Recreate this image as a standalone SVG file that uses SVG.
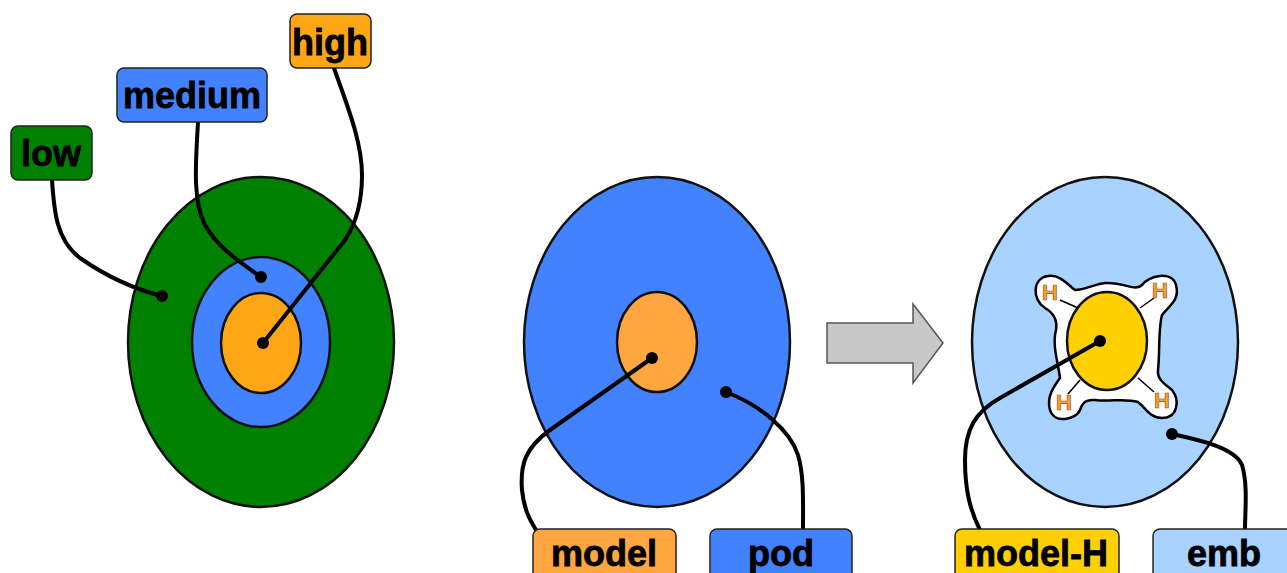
<svg xmlns="http://www.w3.org/2000/svg" width="1287" height="573" viewBox="0 0 1287 573">
<style>
.lbl{font-family:"Liberation Sans",Arial,sans-serif;font-weight:bold;font-size:36px;fill:#000;stroke:#000;stroke-width:0.8;text-anchor:middle}
.box{stroke:#222;stroke-width:1.5}
.ell{stroke:#111;stroke-width:2.5}
.con{fill:none;stroke:#000;stroke-width:4;stroke-linecap:round}
.h{font-family:"Liberation Sans",Arial,sans-serif;font-weight:bold;font-size:22px;fill:#f5a040;stroke:#a05010;stroke-width:0.7;text-anchor:middle}
.thin{stroke:#000;stroke-width:1.5}
</style>
<rect width="1287" height="573" fill="#fff"/>
<g id="target">
<ellipse class="ell" cx="261" cy="342" rx="133" ry="165" fill="#008000"/>
<ellipse class="ell" cx="261" cy="342" rx="69" ry="85" fill="#4282ff"/>
<ellipse class="ell" cx="261" cy="343" rx="40" ry="50" fill="#ffa616"/>
</g>
<g id="cell">
<ellipse class="ell" cx="657" cy="342" rx="133" ry="165" fill="#4282ff"/>
<ellipse class="ell" cx="657" cy="342" rx="40" ry="50" fill="#ffa640"/>
</g>
<g id="arrow">
<path d="M827,323 H913 V304 L943,343 L913,383 V363 H827 Z" fill="#c8c8c8" stroke="#555" stroke-width="1.5"/>
</g>
<g id="cell-h">
<ellipse class="ell" cx="1105" cy="342" rx="133" ry="165" fill="#a8d2ff"/>
<path d="M1105,283 C1125,282 1135,292 1142,285 C1148,276 1172,270 1176,285 C1180,300 1170,305 1162,315 C1158,330 1160,355 1158,370 C1157,380 1165,384 1172,390 C1180,400 1178,418 1162,418 C1150,418 1146,408 1138,402 C1125,398 1110,402 1095,400 C1085,399 1082,404 1080,410 C1076,420 1054,424 1050,410 C1046,396 1055,385 1060,378 C1058,362 1052,345 1056,330 C1058,318 1052,312 1045,308 C1032,300 1032,278 1048,276 C1060,274 1068,285 1075,290 C1085,290 1095,284 1105,283 Z" fill="#fff" stroke="#000" stroke-width="2.5"/>
<line class="thin" x1="1060" y1="300" x2="1078" y2="308"/>
<line class="thin" x1="1154" y1="298" x2="1140" y2="308"/>
<line class="thin" x1="1068" y1="394" x2="1080" y2="380"/>
<line class="thin" x1="1154" y1="392" x2="1138" y2="378"/>
<ellipse class="ell" cx="1107" cy="341" rx="40" ry="49" fill="#ffd000"/>
<text class="h" x="1050" y="300">H</text>
<text class="h" x="1160" y="298">H</text>
<text class="h" x="1064" y="410">H</text>
<text class="h" x="1162" y="408">H</text>
</g>
<g id="connectors">
<path class="con" d="M52,180 C54,210 56,240 80,258 C100,272 130,288 162,296"/>
<path class="con" d="M198,122 C196,160 192,200 205,225 C218,248 240,262 261,277"/>
<path class="con" d="M334,68 C345,100 362,140 362,175 C362,205 355,225 345,240 L263,343"/>
<path class="con" d="M652,358 L550,430 C525,448 520,465 522,490 C524,510 530,520 536,530"/>
<path class="con" d="M726,392 C760,405 790,430 798,455 C804,475 803,500 803,530"/>
<path class="con" d="M1100,341 L1000,398 C975,412 965,430 965,460 C965,490 970,510 980,530"/>
<path class="con" d="M1172,434 C1200,440 1235,448 1242,465 C1248,485 1245,510 1245,530"/>
<g fill="#000">
<circle cx="162" cy="296" r="6"/>
<circle cx="261" cy="277" r="6"/>
<circle cx="263" cy="343" r="6"/>
<circle cx="652" cy="358" r="6"/>
<circle cx="726" cy="392" r="6"/>
<circle cx="1100" cy="341" r="6"/>
<circle cx="1172" cy="434" r="6"/>
</g>
</g>
<g id="label-low">
<rect class="box" x="11" y="126" width="81" height="54" rx="7" fill="#008000"/>
<text class="lbl" x="51" y="166">low</text>
</g>
<g id="label-medium">
<rect class="box" x="117" y="68" width="150" height="54" rx="7" fill="#4282ff"/>
<text class="lbl" x="192" y="108">medium</text>
</g>
<g id="label-high">
<rect class="box" x="290" y="14" width="81" height="54" rx="7" fill="#ffa616"/>
<text class="lbl" x="330" y="55">high</text>
</g>
<g id="label-model">
<rect class="box" x="533" y="529" width="143" height="54" rx="7" fill="#ffa640"/>
<text class="lbl" x="604" y="566">model</text>
</g>
<g id="label-pod">
<rect class="box" x="710" y="529" width="142" height="54" rx="7" fill="#4282ff"/>
<text class="lbl" x="781" y="566">pod</text>
</g>
<g id="label-model-h">
<rect class="box" x="955" y="529" width="164" height="54" rx="7" fill="#ffd000"/>
<text class="lbl" x="1036" y="566">model-H</text>
</g>
<g id="label-emb">
<rect class="box" x="1153" y="529" width="142" height="54" rx="7" fill="#a8d2ff"/>
<text class="lbl" x="1224" y="566">emb</text>
</g>
</svg>
